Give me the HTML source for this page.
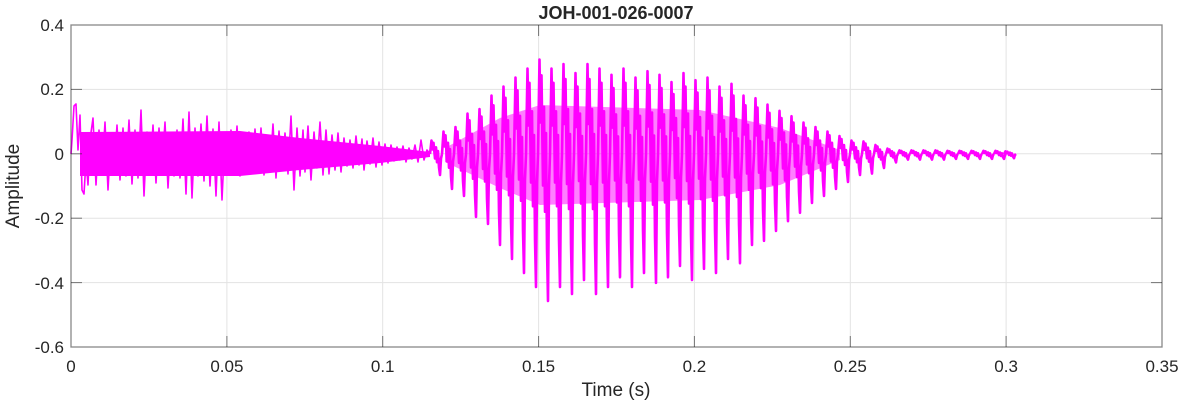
<!DOCTYPE html>
<html><head><meta charset="utf-8"><style>
body{margin:0;background:#fff;}
svg{display:block;font-family:"Liberation Sans",sans-serif;}
</style></head><body>
<svg width="1182" height="404" viewBox="0 0 1182 404" xmlns="http://www.w3.org/2000/svg">
<rect width="1182" height="404" fill="#fff"/>
<defs>
<path id="p" d="M0 0 L1.5 -0.9 L2.5 -0.3 L3.5 -0.75 L5 0.3 L6 -0.45 L7 0.55 L8 -0.2 L9 0.9 L10 1.4 L11 0.3 L12 0" fill="none" stroke="#ff00ff" stroke-width="2.6" stroke-linejoin="round" vector-effect="non-scaling-stroke"/>
</defs>
<g stroke="#e3e3e3" stroke-width="1">
<line x1="226.9" y1="25" x2="226.9" y2="347"/><line x1="382.7" y1="25" x2="382.7" y2="347"/>
<line x1="538.6" y1="25" x2="538.6" y2="347"/><line x1="694.4" y1="25" x2="694.4" y2="347"/>
<line x1="850.3" y1="25" x2="850.3" y2="347"/><line x1="1006.1" y1="25" x2="1006.1" y2="347"/>
<line x1="71" y1="89.4" x2="1162" y2="89.4"/><line x1="71" y1="153.8" x2="1162" y2="153.8"/>
<line x1="71" y1="218.2" x2="1162" y2="218.2"/><line x1="71" y1="282.6" x2="1162" y2="282.6"/>
</g>
<polygon fill="#ff00ff" points="80,132 240,131 300,138 380,146 430,152 430,157 380,163 300,170 240,176 80,176"/>
<polygon fill="#ff00ff" fill-opacity="0.5" points="445,148 500,118 540,105 700,110 780,128 840,150 840,160 780,185 700,200 540,205 500,188 445,162"/>
<path fill="none" stroke="#ff00ff" stroke-width="1.6" stroke-linejoin="round" d="M71 154 L72 140 L74 106 L76 104 L78 150 L80 115 L82 190 L84 194 L86 160 L88 185 L90 140 L93 118 L96 185 L99 130 L102 175 L105 122 L108 190 L111 135 L114 172 L117 125 L120 180 L123 128 L126 176 L129 120 L132 184 L135 130 L138 178 L141 110 L144 196 L147 132 L150 174 L153 125 L156 183 L159 128 L162 170 L165 122 L168 188 L171 134 L174 176 L177 130 L180 178 L183 119 L186 194 L189 112 L192 198 L195 128 L198 176 L201 124 L204 181 L207 116 L210 186 L213 129 L216 196 L219 122 L222 200 L225 133 L228 175 L231 130 L234 172 L237 126 L240 176 L243 134 L246 170 L249 132 L252 173 L255 129 L258 168 L261 128 L264 175 L267 136 L270 169 L273 124 L276 178 L279 131 L282 170 L285 133 L288 174 L291 116 L294 190 L297 128 L300 176 L303 130 L305 172 L308 126 L311 180 L314 132 L317 168 L320 122 L323 175 L326 130 L329 174 L332 135 L335 170 L338 133 L341 172 L344 138 L347 166 L350 140 L353 168 L356 136 L359 165 L362 139 L364 170 L367 141 L370 164 L373 138 L376 167 L379 142 L382 165 L385 144 L388 163 L391 145 L394 161 L397 147 L400 160 L403 146 L406 162 L409 148 L412 159 L415 145 L418 162 L421 140 L424 160 L427 150 L430 154"/>
<g>
<use href="#p" transform="translate(430,154) scale(1,15)"/>
<use href="#p" transform="translate(442,154) scale(1,25)"/>
<use href="#p" transform="translate(454,154) scale(1,30)"/>
<use href="#p" transform="translate(466,154) scale(1,45)"/>
<use href="#p" transform="translate(478,154) scale(1,50)"/>
<use href="#p" transform="translate(490,154) scale(1,65)"/>
<use href="#p" transform="translate(502,154) scale(1,75)"/>
<use href="#p" transform="translate(514,154) scale(1,85)"/>
<use href="#p" transform="translate(526,154) scale(1,95)"/>
<use href="#p" transform="translate(538,154) scale(1,105)"/>
<use href="#p" transform="translate(550,154) scale(1,95)"/>
<use href="#p" transform="translate(562,154) scale(1,100)"/>
<use href="#p" transform="translate(574,154) scale(1,90)"/>
<use href="#p" transform="translate(586,154) scale(1,100)"/>
<use href="#p" transform="translate(598,154) scale(1,95)"/>
<use href="#p" transform="translate(610,154) scale(1,88)"/>
<use href="#p" transform="translate(622,154) scale(1,95)"/>
<use href="#p" transform="translate(634,154) scale(1,85)"/>
<use href="#p" transform="translate(646,154) scale(1,92)"/>
<use href="#p" transform="translate(658,154) scale(1,88)"/>
<use href="#p" transform="translate(670,154) scale(1,80)"/>
<use href="#p" transform="translate(682,154) scale(1,90)"/>
<use href="#p" transform="translate(694,154) scale(1,82)"/>
<use href="#p" transform="translate(706,154) scale(1,85)"/>
<use href="#p" transform="translate(718,154) scale(1,75)"/>
<use href="#p" transform="translate(730,154) scale(1,78)"/>
<use href="#p" transform="translate(742,154) scale(1,65)"/>
<use href="#p" transform="translate(754,154) scale(1,62)"/>
<use href="#p" transform="translate(766,154) scale(1,55)"/>
<use href="#p" transform="translate(778,154) scale(1,48)"/>
<use href="#p" transform="translate(790,154) scale(1,42)"/>
<use href="#p" transform="translate(802,154) scale(1,35)"/>
<use href="#p" transform="translate(814,154) scale(1,30)"/>
<use href="#p" transform="translate(826,154) scale(1,25)"/>
<use href="#p" transform="translate(838,154) scale(1,20)"/>
<use href="#p" transform="translate(850,154) scale(1,15)"/>
<use href="#p" transform="translate(862,154) scale(1,14)"/>
<use href="#p" transform="translate(874,154) scale(1,10)"/>
<use href="#p" transform="translate(886,154) scale(1,6)"/>
<use href="#p" transform="translate(898,154) scale(1,4)"/>
<use href="#p" transform="translate(910,154) scale(1,4)"/>
<use href="#p" transform="translate(922,154) scale(1,4)"/>
<use href="#p" transform="translate(934,154) scale(1,4)"/>
<use href="#p" transform="translate(946,154) scale(1,3.5)"/>
<use href="#p" transform="translate(958,154) scale(1,3.5)"/>
<use href="#p" transform="translate(970,154) scale(1,3.5)"/>
<use href="#p" transform="translate(982,154) scale(1,3.5)"/>
<use href="#p" transform="translate(994,154) scale(1,3.5)"/>
<use href="#p" transform="translate(1004,154) scale(1,3)"/>
</g>
<rect x="71" y="25" width="1091" height="322" fill="none" stroke="#262626" stroke-opacity="0.55" stroke-width="1.3"/>
<g stroke="#262626" stroke-opacity="0.6">
<line x1="226.9" y1="347" x2="226.9" y2="336"/><line x1="382.7" y1="347" x2="382.7" y2="336"/><line x1="538.6" y1="347" x2="538.6" y2="336"/><line x1="694.4" y1="347" x2="694.4" y2="336"/><line x1="850.3" y1="347" x2="850.3" y2="336"/><line x1="1006.1" y1="347" x2="1006.1" y2="336"/>
<line x1="226.9" y1="25" x2="226.9" y2="36"/><line x1="382.7" y1="25" x2="382.7" y2="36"/><line x1="538.6" y1="25" x2="538.6" y2="36"/><line x1="694.4" y1="25" x2="694.4" y2="36"/><line x1="850.3" y1="25" x2="850.3" y2="36"/><line x1="1006.1" y1="25" x2="1006.1" y2="36"/>
<line x1="71" y1="89.4" x2="82" y2="89.4"/><line x1="71" y1="153.8" x2="82" y2="153.8"/><line x1="71" y1="218.2" x2="82" y2="218.2"/><line x1="71" y1="282.6" x2="82" y2="282.6"/>
<line x1="1162" y1="89.4" x2="1151" y2="89.4"/><line x1="1162" y1="153.8" x2="1151" y2="153.8"/><line x1="1162" y1="218.2" x2="1151" y2="218.2"/><line x1="1162" y1="282.6" x2="1151" y2="282.6"/>
</g>
<g fill="#262626" font-size="17" text-anchor="end">
<text x="64" y="31">0.4</text><text x="64" y="95">0.2</text><text x="64" y="160">0</text><text x="64" y="224">-0.2</text><text x="64" y="289">-0.4</text><text x="64" y="353">-0.6</text>
</g>
<g fill="#262626" font-size="17" text-anchor="middle">
<text x="71" y="372">0</text><text x="226.9" y="372">0.05</text><text x="382.7" y="372">0.1</text><text x="538.6" y="372">0.15</text><text x="694.4" y="372">0.2</text><text x="850.3" y="372">0.25</text><text x="1006.1" y="372">0.3</text><text x="1162" y="372">0.35</text>
<text x="616" y="396" font-size="19">Time (s)</text>
<text x="616" y="19" font-size="18" font-weight="bold">JOH-001-026-0007</text>
</g>
<text transform="translate(19,186) rotate(-90)" fill="#262626" font-size="19" text-anchor="middle">Amplitude</text>
</svg>
</body></html>
